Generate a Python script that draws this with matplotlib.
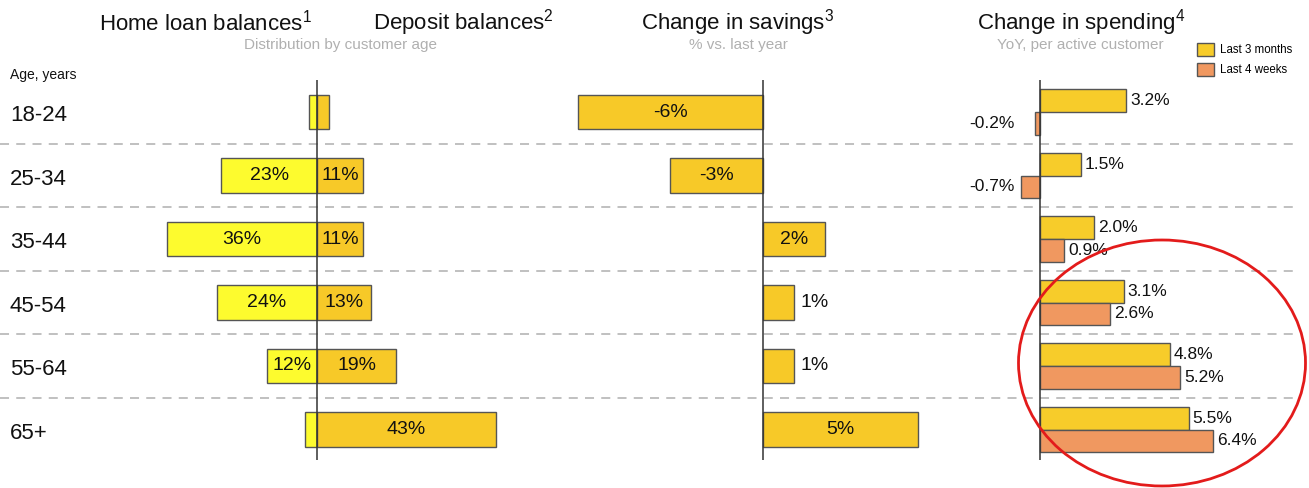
import numpy as np
import matplotlib
matplotlib.use("Agg")
import matplotlib.pyplot as plt
from matplotlib.patches import Patch, Ellipse

plt.rcParams['font.family'] = ['Liberation Sans', 'DejaVu Sans']
plt.rcParams['mathtext.fontset'] = 'custom'
plt.rcParams['mathtext.rm'] = 'Liberation Sans'
plt.rcParams['mathtext.it'] = 'Liberation Sans'

# Data
ages = ["18-24", "25-34", "35-44", "45-54", "55-64", "65+"]
home_loan = [2, 23, 36, 24, 12, 3]          # % of balances
home_loan_labels = ["", "23%", "36%", "24%", "12%", ""]
deposit = [3, 11, 11, 13, 19, 43]
deposit_labels = ["", "11%", "11%", "13%", "19%", "43%"]
savings = [-6, -3, 2, 1, 1, 5]
spend_3m = [3.2, 1.5, 2.0, 3.1, 4.8, 5.5]
spend_4w = [-0.2, -0.7, 0.9, 2.6, 5.2, 6.4]

# colours
c_loan = "#FDFB2E"
c_dep = "#F7C928"
c_3m = "#F7CC2A"
c_4w = "#F09860"
c_edge = "#555555"
c_axis = "#333333"

W, H = 1309, 488
fig = plt.figure(figsize=(W / 100, H / 100), dpi=100)

# vertical layout in pixels: plotting band from y=80 to y=460, row 0 at 112, step 63.5
y_top, y_bot = 80, 460
row0, step = 112, 63.5
ylim = ((y_bot - row0) / step, (y_top - row0) / step)
rows = np.arange(len(ages))


def px_axes(x0, x1):
    return fig.add_axes([x0 / W, 1 - y_bot / H, (x1 - x0) / W, (y_bot - y_top) / H])


# background: separators and row labels
bg = px_axes(0, W)
bg.set_xlim(0, W)
bg.set_ylim(*ylim)
bg.axis("off")
for r in rows[:-1]:
    bg.plot([0, 1300], [r + 0.5, r + 0.5], ls=(0, (5, 4)), color="#BBBBBB", lw=1.3)
for r, a in zip(rows, ages):
    bg.text(10, r + 0.06, a, fontsize=16, va="center", ha="left", color="#111111")
fig.text(10 / W, 1 - 75 / H, "Age, years", fontsize=10, va="center", color="#111111")


def style(ax, xlim):
    ax.set_xlim(*xlim)
    ax.set_ylim(*ylim)
    ax.axis("off")
    ax.patch.set_alpha(0)
    ax.axvline(0, color=c_axis, lw=1.1, zorder=5)


# Panel 1: home loan / deposit balances
ax1 = px_axes(160, 560)
style(ax1, (-(317 - 160) / 4.16, (560 - 317) / 4.16))
ax1.barh(rows, [-v for v in home_loan], height=0.55, color=c_loan, edgecolor=c_edge, lw=1)
ax1.barh(rows, deposit, height=0.55, color=c_dep, edgecolor=c_edge, lw=1)
for r, v, lab in zip(rows, home_loan, home_loan_labels):
    ax1.text(-v / 2, r, lab, ha="center", va="center", fontsize=14, color="#111111")
for r, v, lab in zip(rows, deposit, deposit_labels):
    ax1.text(v / 2, r, lab, ha="center", va="center", fontsize=14, color="#111111")

# Panel 2: change in savings
ax2 = px_axes(560, 960)
style(ax2, (-(763 - 560) / 30.9, (960 - 763) / 30.9))
ax2.barh(rows, savings, height=0.55, color=c_dep, edgecolor=c_edge, lw=1)
for r, v in zip(rows, savings):
    if abs(v) >= 2:
        ax2.text(v / 2, r, f"{v}%", ha="center", va="center", fontsize=14, color="#111111")
    else:
        ax2.text(v + 0.2, r, f"{v}%", ha="left", va="center", fontsize=14, color="#111111")

# Panel 3: change in spending
ax3 = px_axes(960, W)
style(ax3, (-(1040 - 960) / 27.0, (W - 1040) / 27.0))
bh = 0.36
ax3.barh(rows - bh / 2, spend_3m, height=bh, color=c_3m, edgecolor=c_edge, lw=1)
ax3.barh(rows + bh / 2, spend_4w, height=bh, color=c_4w, edgecolor=c_edge, lw=1)
for r, a, b in zip(rows, spend_3m, spend_4w):
    for y, v in ((r - bh / 2, a), (r + bh / 2, b)):
        if v >= 0:
            ax3.text(v + 0.15, y, f"{v:.1f}%", ha="left", va="center", fontsize=12.5, color="#111111")
        else:
            ax3.text(-0.95, y, f"{v:.1f}%", ha="right", va="center", fontsize=12.5, color="#111111")

# Titles
title_kw = dict(fontsize=16, ha="center", va="center", color="#111111")
sub_kw = dict(fontsize=11, ha="center", va="center", color="#B0B0B0")
fig.text(205 / W, 1 - 23 / H, "Home loan balances$^{1}$", **title_kw)
fig.text(463 / W, 1 - 23 / H, "Deposit balances$^{2}$", **title_kw)
fig.text(341 / W, 1 - 45 / H, "Distribution by customer age", **sub_kw)
fig.text(738 / W, 1 - 23 / H, "Change in savings$^{3}$", **title_kw)
fig.text(738 / W, 1 - 45 / H, "% vs. last year", **sub_kw)
fig.text(1081 / W, 1 - 23 / H, "Change in spending$^{4}$", **title_kw)
fig.text(1080 / W, 1 - 45 / H, "YoY, per active customer", **sub_kw)

# Legend
handles = [Patch(facecolor=c_3m, edgecolor=c_edge, lw=1, label="Last 3 months"),
           Patch(facecolor=c_4w, edgecolor=c_edge, lw=1, label="Last 4 weeks")]
fig.legend(handles=handles, loc="upper left", bbox_to_anchor=(1197 / W, 1 - 43 / H),
           frameon=False, fontsize=8.3, handlelength=1.5, handleheight=1.3,
           handletextpad=0.5, labelspacing=0.6, borderpad=0, borderaxespad=0)

# Red highlight ellipse
fig.patches.append(Ellipse((1162 / W, 1 - 363 / H), 287 / W, 246 / H,
                           transform=fig.transFigure, fill=False,
                           edgecolor="#E31B1B", lw=2))

fig.savefig("out.png", dpi=100, facecolor="white")
